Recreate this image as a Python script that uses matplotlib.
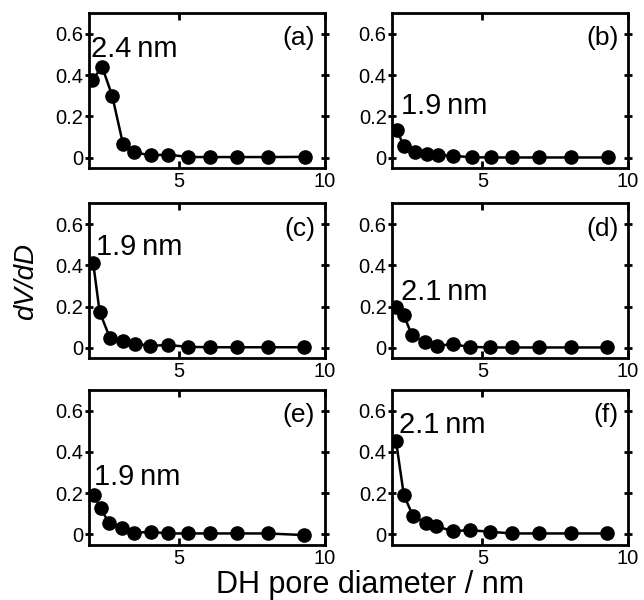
import matplotlib
matplotlib.use('Agg')
import matplotlib.pyplot as plt

plt.rcParams['font.family'] = ['Liberation Sans', 'DejaVu Sans']

# pore diameters (nm)
d_a = [2.01, 2.36, 2.70, 3.07, 3.45, 4.02, 4.63, 5.32, 6.06, 6.98, 8.06, 9.32]
d_b = [2.05, 2.30, 2.70, 3.10, 3.46, 4.00, 4.63, 5.29, 6.03, 6.96, 8.03, 9.32]
d_c = [2.05, 2.27, 2.62, 3.08, 3.47, 4.00, 4.62, 5.31, 6.05, 6.99, 8.04, 9.31]
d_d = [2.02, 2.30, 2.58, 3.04, 3.44, 3.98, 4.57, 5.27, 6.03, 6.96, 8.03, 9.29]
d_e = [2.07, 2.30, 2.59, 3.05, 3.45, 4.02, 4.63, 5.32, 6.06, 6.98, 8.04, 9.31]
d_f = [2.03, 2.30, 2.62, 3.05, 3.42, 3.98, 4.57, 5.27, 6.03, 6.96, 8.03, 9.29]

# dV/dD values
v_a = [0.377, 0.438, 0.301, 0.068, 0.027, 0.011, 0.015, 0.003, 0.003, 0.003, 0.003, 0.004]
v_b = [0.135, 0.058, 0.026, 0.018, 0.013, 0.009, 0.002, 0.001, 0.001, 0.001, 0.001, 0.001]
v_c = [0.410, 0.174, 0.050, 0.034, 0.021, 0.010, 0.014, 0.005, 0.003, 0.003, 0.003, 0.003]
v_d = [0.199, 0.158, 0.060, 0.027, 0.011, 0.017, 0.005, 0.002, 0.002, 0.002, 0.002, 0.002]
v_e = [0.192, 0.127, 0.057, 0.029, 0.008, 0.013, 0.005, 0.005, 0.005, 0.005, 0.005, -0.003]
v_f = [0.454, 0.191, 0.088, 0.056, 0.040, 0.016, 0.021, 0.013, 0.005, 0.005, 0.005, 0.005]

panel_tags = ['(a)', '(b)', '(c)', '(d)', '(e)', '(f)']
peak_labels = ['2.4\u2009nm', '1.9\u2009nm', '1.9\u2009nm',
               '2.1\u2009nm', '1.9\u2009nm', '2.1\u2009nm']
peak_label_pos = [(1.98, 0.487), (2.19, 0.21), (2.13, 0.45),
                  (2.19, 0.23), (2.07, 0.241), (2.12, 0.494)]

xs = [d_a, d_b, d_c, d_d, d_e, d_f]
ys = [v_a, v_b, v_c, v_d, v_e, v_f]

fig = plt.figure(figsize=(6.44, 6.0), dpi=100)

lefts = [0.138, 0.609]
bottoms = [0.72, 0.403, 0.092]
w, h = 0.366, 0.258

for i in range(6):
    row, col = divmod(i, 2)
    ax = fig.add_axes([lefts[col], bottoms[row], w, h])
    ax.plot(xs[i], ys[i], '-o', color='black', lw=1.8, markersize=9.5)
    ax.set_xlim(1.9, 10)
    ax.set_ylim(-0.05, 0.7)
    ax.set_xticks([5, 10])
    ax.set_xticklabels(['5', '10'])
    ax.set_yticks([0, 0.2, 0.4, 0.6])
    ax.set_yticklabels(['0', '0.2', '0.4', '0.6'])
    for s in ax.spines.values():
        s.set_linewidth(2)
    ax.tick_params(axis='x', direction='in', length=5, width=2, top=True,
                   labelsize=14.5, pad=3)
    ax.tick_params(axis='y', direction='inout', length=6, width=2, right=True,
                   labelsize=14.5, pad=1)
    ax.text(0.96, 0.915, panel_tags[i], transform=ax.transAxes,
            ha='right', va='top', fontsize=19)
    px, py = peak_label_pos[i]
    ax.text(px, py, peak_labels[i], ha='left', va='baseline', fontsize=21)

fig.text(0.575, 0.012, 'DH pore diameter / nm', ha='center', va='baseline',
         fontsize=22)
fig.text(0.041, 0.53, 'dV/dD', rotation=90, ha='center', va='center',
         fontsize=20, style='italic')

plt.savefig('out.png', dpi=100)
